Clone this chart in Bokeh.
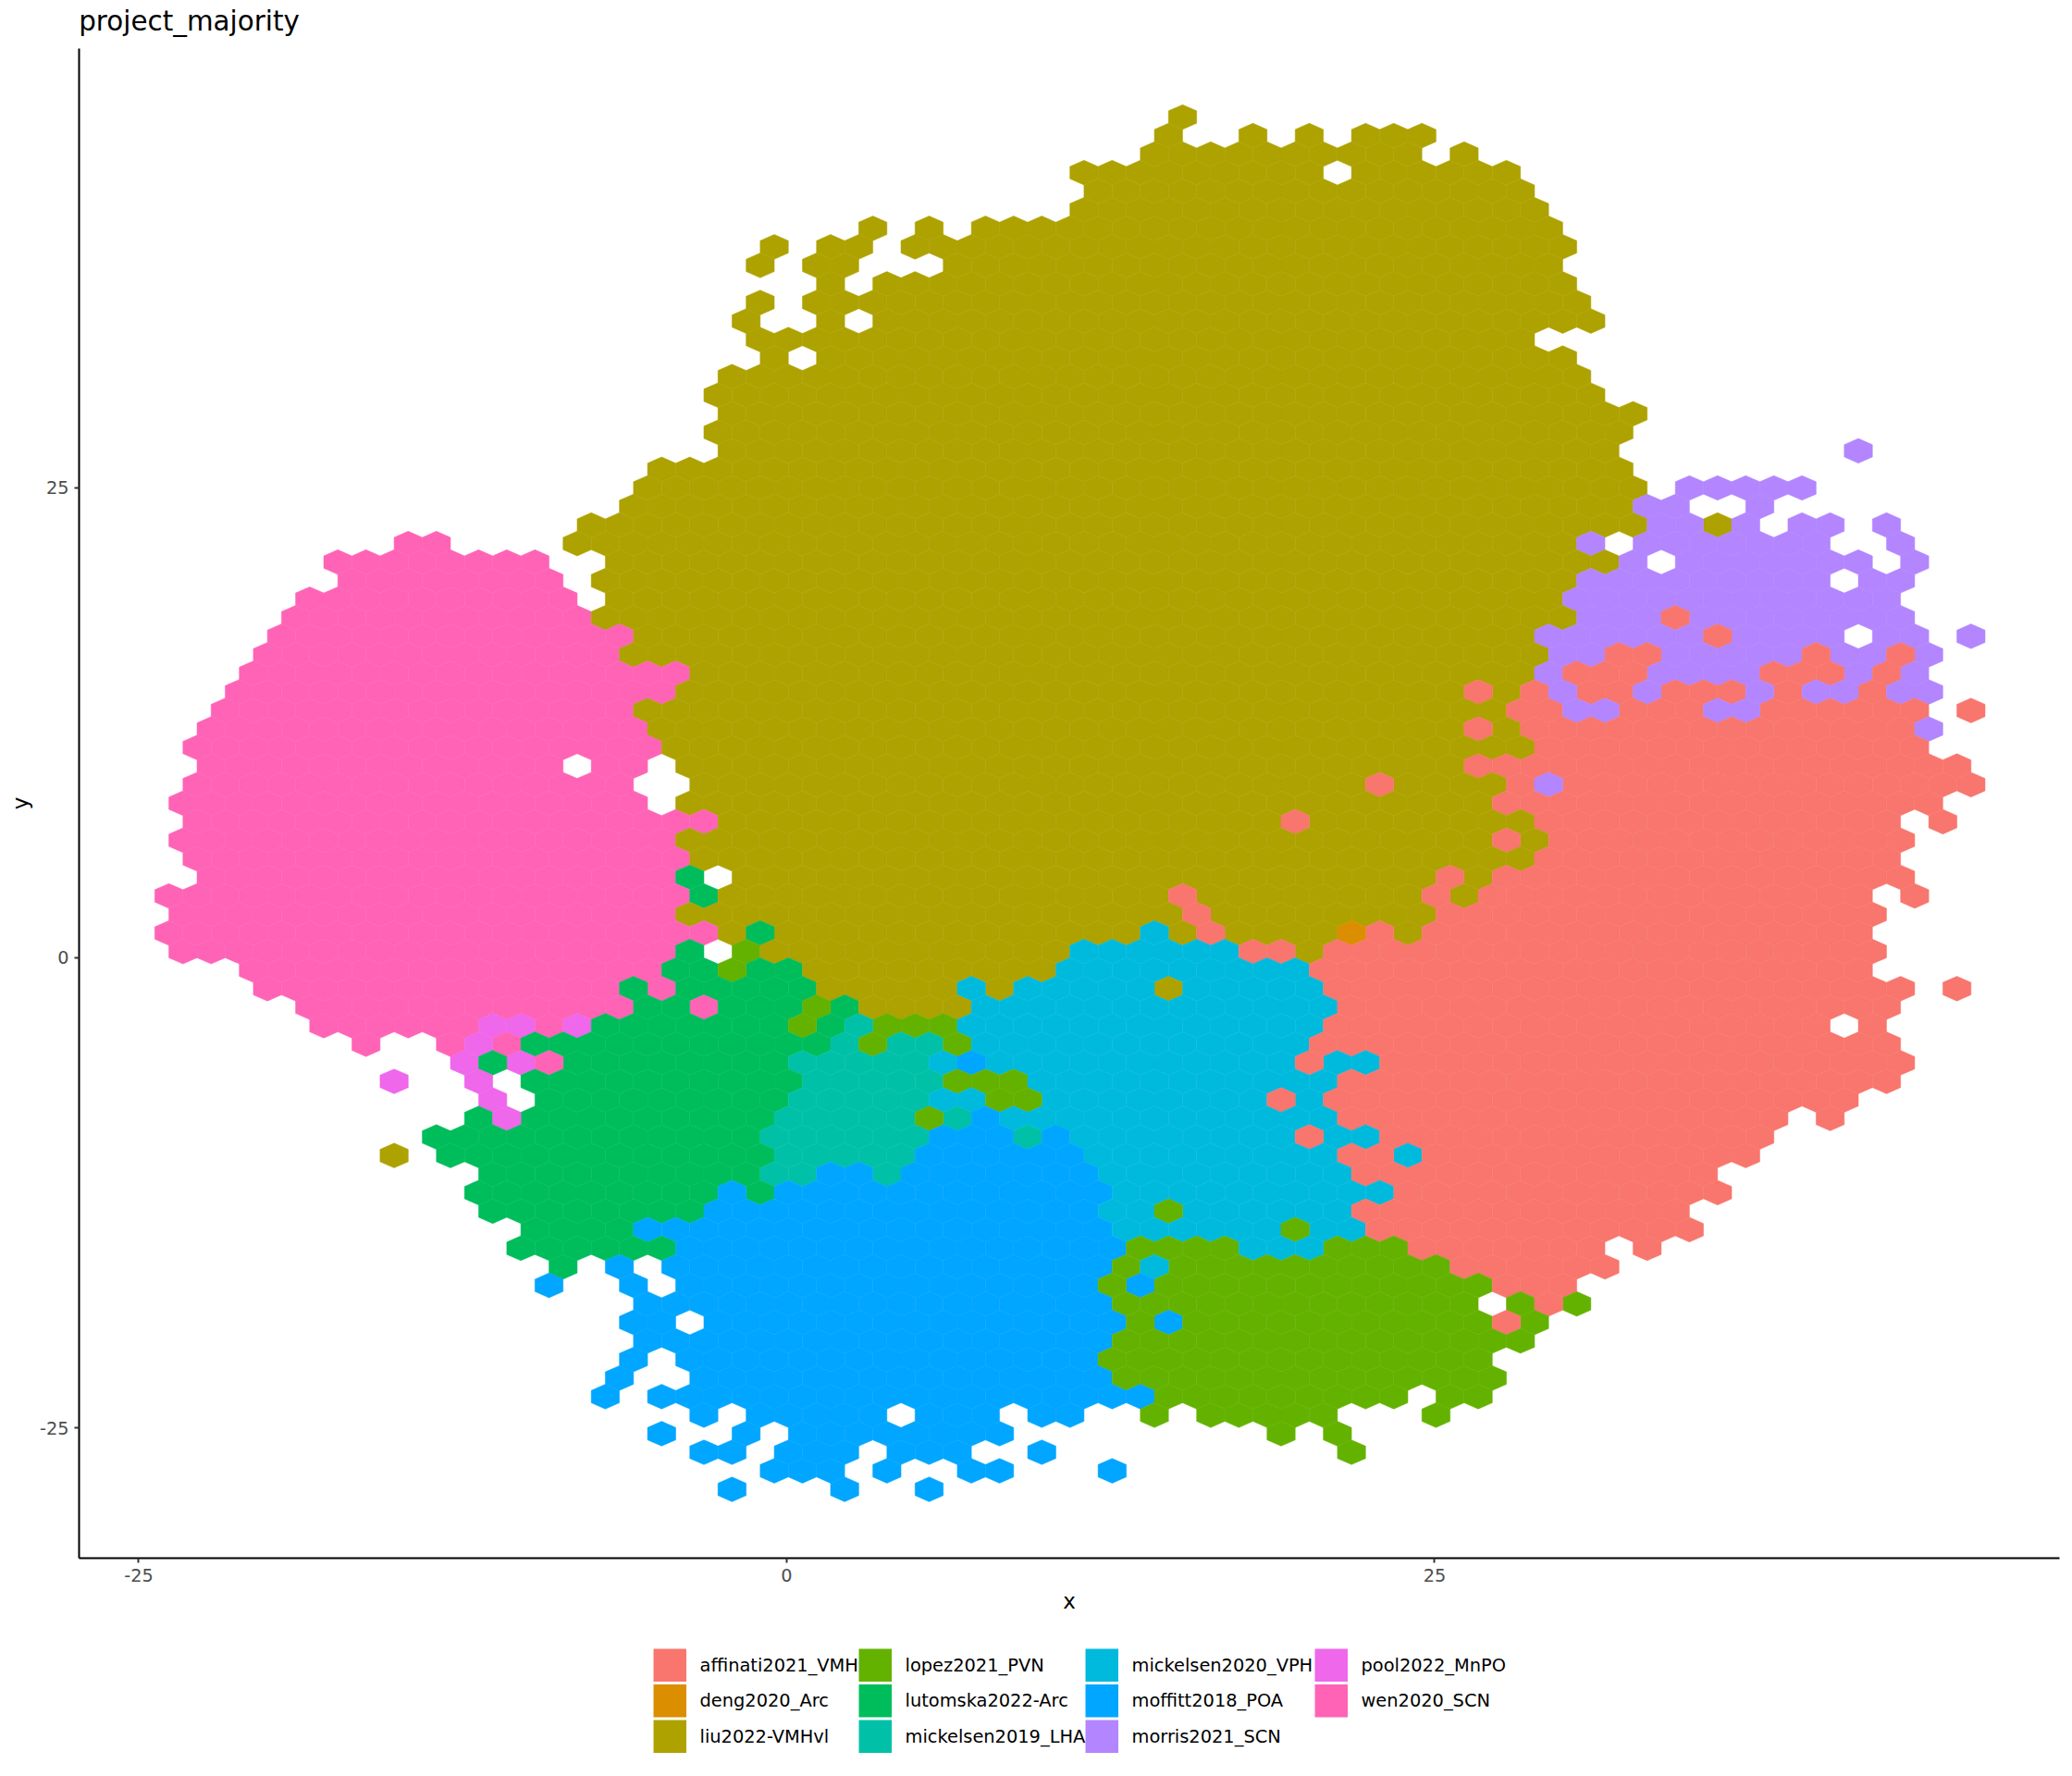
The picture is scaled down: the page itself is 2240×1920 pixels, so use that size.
from bokeh.plotting import figure
from bokeh.layouts import column
from bokeh.models import Range1d, FixedTicker
from bokeh.core.properties import value
from bokeh.embed import file_html
from bokeh.resources import INLINE

TITLE = "project_majority"
categories = ["affinati2021_VMH", "deng2020_Arc", "liu2022-VMHvl", "lopez2021_PVN", "lutomska2022-Arc",
              "mickelsen2019_LHA", "mickelsen2020_VPH", "moffitt2018_POA", "morris2021_SCN",
              "pool2022_MnPO", "wen2020_SCN"]
codes = ["A", "D", "L", "F", "I", "G", "C", "H", "M", "J", "N"]
colors = ["#F8766D", "#DB8E00", "#AEA200", "#64B200", "#00BD5C", "#00C1A7", "#00BADE", "#00A6FF", "#B385FF", "#EF67EB", "#FF63B6"]
x_ticks = [-25, 0, 25]
y_ticks = [-25, 0, 25]

# one string per hexagon row, top to bottom: group code, then half-column indices (a..b = every second one)
hex_rows = [
    "L 0",
    "L -1 5 9 13..17",
    "L -2..16 20",
    "L -7..9 13..23",
    "L -6..24",
    "L -7..25",
    "L -22 -18 -14..26",
    "L -29 -25 -23 -19..27",
    "L -30 -26 -24 -16..26",
    "L -25 -21..27",
    "L -30 -26..28",
    "L -31 -25 -21..29",
    "L -30..24",
    "L -29 -25..27",
    "L -32..28",
    "L -33..29",
    "L -32..32",
    "L -33..31",
    "L -32..30; M 48",
    "L -37..31",
    "L -38..32; M 36..44",
    "L -39..31; M 33 35 41",
    "L -42..32 38; M 34 36 40 44 46 50",
    "N -55 -53; L -43..27; M 29 33..45 51",
    "N -60..-46; L -40..30; M 32 36..48 52",
    "N -59..-45; L -41..27; M 29..45 49 51",
    "N -62..-44; L -40..26; M 28..50",
    "N -63..-43; L -41..27; M 29 31 33 37..51; A 35",
    "N -64..-40; L -38..24; M 26..36 40..46 50 52 56; A 38",
    "N -65..-41; L -39..25; M 27 29 35..43 47 49 53; A 31 33 45 51",
    "N -66..-36; L -34..24; M 26 34..40 48 52; A 28 30 32 42 44 46 50",
    "N -67..-37; L -35..19 23; A 21 25 29 31 35 37 39 43 49; M 27 33 41 45 47 51 53",
    "N -68..-40; L -38..22; A 24 26 32 34 36 42..52 56; M 28 30 38 40",
    "N -69..-39; L -37..19 23; A 21 25..51; M 53",
    "N -70..-38; L -36..24; A 26..52",
    "N -69..-45 -41 -39; L -35..19; A 21..55",
    "N -70..-40; L -34..12 16..22; A 14 24 28..56; M 26",
    "N -71..-39; L -35..21; A 23..53",
    "N -70..-34; L -32..6 10..24; A 8 26..50 54",
    "N -71..-37; L -35..21 25; A 23 27..51",
    "N -70..-36; L -34..24; A 26..50",
    "N -69..-37; I -35; L -31..17 21; A 19 23..51",
    "N -72..-36; I -34; L -32..-2 2..16 20; A 0 18 22..48 52",
    "N -71..-37; L -35..-1 3..17; A 1 19..49",
    "N -72..-34; L -32 -28..-4 0 4..10 16; I -30; C -2; A 2 14 18..48; D 12",
    "N -71..-37; I -35; F -31; L -29..-9 9; C -7..3; A 5 7 11..49",
    "N -66..-38; I -36 -34 -30 -28; F -32; L -26..-10; C -8..8; A 10..48",
    "N -65..-41 -37; I -39 -35..-27; L -25..-17 -13 -1; C -15 -11..-3 1..9; A 11..51 55",
    "N -62..-40 -34; I -38 -36 -32..-28 -24; F -26; L -22..-16; C -14..10; A 12..50",
    "N -61..-51 -45; J -49 -47 -43; I -41..-29 -25; F -27 -21..-17; G -23; C -15..9; A 11..45 49",
    "N -58 -52 -48; J -50; I -46..-26; G -24 -20 -18; F -22 -16; C -14..8; A 10..50",
    "J -51 -47; I -49 -43..-29; N -45; G -27..-19; C -17 -13..7 11 13; H -15; A 9 15..51",
    "J -56 -50; I -46..-28; G -26..-18; F -16 -14 -12; C -10..10; A 12..50",
    "J -49; I -45..-29; G -27..-19; C -17 -15 -9..5 9; F -13 -11; A 7 11..47",
    "I -50 -46..-30; J -48; G -28..-20 -16; F -18; H -14; C -12..10; A 12..42 46",
    "I -53..-31; G -29..-19 -11; H -17 -15 -13 -9; C -7..7 11 13; A 9 15..41",
    "L -56; I -52..-30; G -28..-20; H -18..-8; C -6..10 16; A 12 14 18..40",
    "I -49..-31; G -29 -27 -21; H -25 -23 -19..-7; C -5..11; A 13..37",
    "I -50..-34 -30; H -32 -28..-6; C -4..14; A 16..38",
    "I -49..-35; H -33..-7; C -5 -3 1..11; F -1; A 13..35",
    "I -46..-40; H -38..-6; C -4..6 10 12; F 8; A 14..36",
    "I -47..-37; H -35..-5; F -3..3 11 13 15; C 5 7 9; A 17..29 33",
    "I -44; H -40 -36..-6; F -4 0..18; C -2; A 20..30",
    "H -45 -39 -35..-7 -3; F -5 -1..21; A 23 25 27",
    "H -38..-6; F -4..20 24 28; A 26",
    "H -39 -37 -33..-5 -1; F -3 1..21 25; A 23",
    "H -38..-6; F -4..24",
    "H -39 -35..-7; F -5..21",
    "H -40 -34..-6; F -4..22",
    "H -41 -37..-3; F -1..15 19 21",
    "H -34 -30..-22 -18..-14 -10 -8; F -2 2..10 18",
    "H -37 -31 -27..-13; F 7 11",
    "H -34 -32 -28 -26 -24 -20 -18 -16 -10; F 12",
    "H -29 -27 -25 -21 -15 -13 -5",
    "H -32 -24 -18",
]

# hexagon lattice in data units
X0, HALF_DX = 15.275, 0.5432
Y0, DY = 44.69, 0.9857


def parse_row(text):
    for part in text.split(";"):
        tok = part.split()
        for item in tok[1:]:
            if ".." in item:
                a, b = item.split("..")
                for h in range(int(a), int(b) + 1, 2):
                    yield tok[0], h
            else:
                yield tok[0], int(item)


color_of = dict(zip(codes, colors))
xs, ys, fills = [], [], []
for r, text in enumerate(hex_rows):
    cy = Y0 - r * DY
    for code, h in parse_row(text):
        cx = X0 + h * HALF_DX
        xs.append([cx, cx + HALF_DX, cx + HALF_DX, cx, cx - HALF_DX, cx - HALF_DX])
        ys.append([cy + 2 * DY / 3, cy + DY / 3, cy - DY / 3, cy - 2 * DY / 3, cy - DY / 3, cy + DY / 3])
        fills.append(color_of[code])


def text_panel(height, y_top):
    """A panel without axes whose frame lines up with the main frame; coordinates are page pixels."""
    panel = figure(width=2232, height=height, x_range=Range1d(85, 2226), y_range=Range1d(y_top + height, y_top),
                   output_backend="svg", toolbar_location=None, x_axis_location=None, y_axis_location=None,
                   min_border=0, min_border_left=0, min_border_right=0, min_border_top=0, min_border_bottom=0,
                   outline_line_color=None)
    panel.grid.visible = False
    return panel


head = text_panel(52, 0)
head.text(x=[85.5], y=[22], text=[TITLE], x_offset=-0.8, text_font=value("DejaVu Sans"), text_font_size="29.4px",
          text_color="black", text_align="left", text_baseline="alphabetic")

p = figure(width=2232, height=1718, frame_width=2141, frame_height=1632,
           x_range=Range1d(-27.30, 49.11), y_range=Range1d(-31.91, 48.33),
           output_backend="svg", toolbar_location=None,
           min_border_left=85, min_border_right=6, min_border_top=0, min_border_bottom=86,
           background_fill_color="white", border_fill_color="white", outline_line_color=None)
p.patches(xs=xs, ys=ys, fill_color=fills, line_color=fills, line_width=0.5)
p.grid.visible = False

for ax, ticks, label in ((p.xaxis[0], x_ticks, "x"), (p.yaxis[0], y_ticks, "y")):
    ax.ticker = FixedTicker(ticks=ticks)
    ax.major_label_overrides = {t: str(t) for t in ticks}
    ax.axis_label = label
    ax.axis_label_text_font = "DejaVu Sans"
    ax.axis_label_text_font_size = "23px"
    ax.axis_label_text_font_style = "normal"
    ax.axis_label_text_color = "black"
    ax.major_label_text_font = "DejaVu Sans"
    ax.major_label_text_font_size = "19.3px"
    ax.major_label_text_color = "#4D4D4D"
    ax.axis_line_color = "black"
    ax.axis_line_width = 2
    ax.major_tick_line_color = "#333333"
    ax.major_tick_line_width = 2
    ax.major_tick_out = 5
    ax.major_tick_in = 0
    ax.minor_tick_line_color = None
p.xaxis[0].major_label_standoff = 6
p.yaxis[0].major_label_standoff = 6
p.xaxis[0].axis_label_standoff = 5
p.yaxis[0].axis_label_standoff = 5

leg = text_panel(140, 1770)
col_left = [706, 928, 1173, 1421]
row_top = [1782, 1820.5, 1859]
layout_cols = [0, 0, 0, 1, 1, 1, 2, 2, 2, 3, 3]
layout_rows = [0, 1, 2, 0, 1, 2, 0, 1, 2, 0, 1]
SW = 35.5
sx = [col_left[c] + SW / 2 for c in layout_cols]
sy = [row_top[r] + SW / 2 for r in layout_rows]
leg.rect(x=sx, y=sy, width=SW, height=SW, fill_color=colors, line_color=None)
leg.text(x=[col_left[c] + 50 for c in layout_cols], y=sy, text=categories,
         text_font=value("DejaVu Sans"), text_font_size="19.4px", text_color="black",
         text_align="left", text_baseline="middle")

open("out.html", "w").write(file_html(column(head, p, leg), INLINE))
